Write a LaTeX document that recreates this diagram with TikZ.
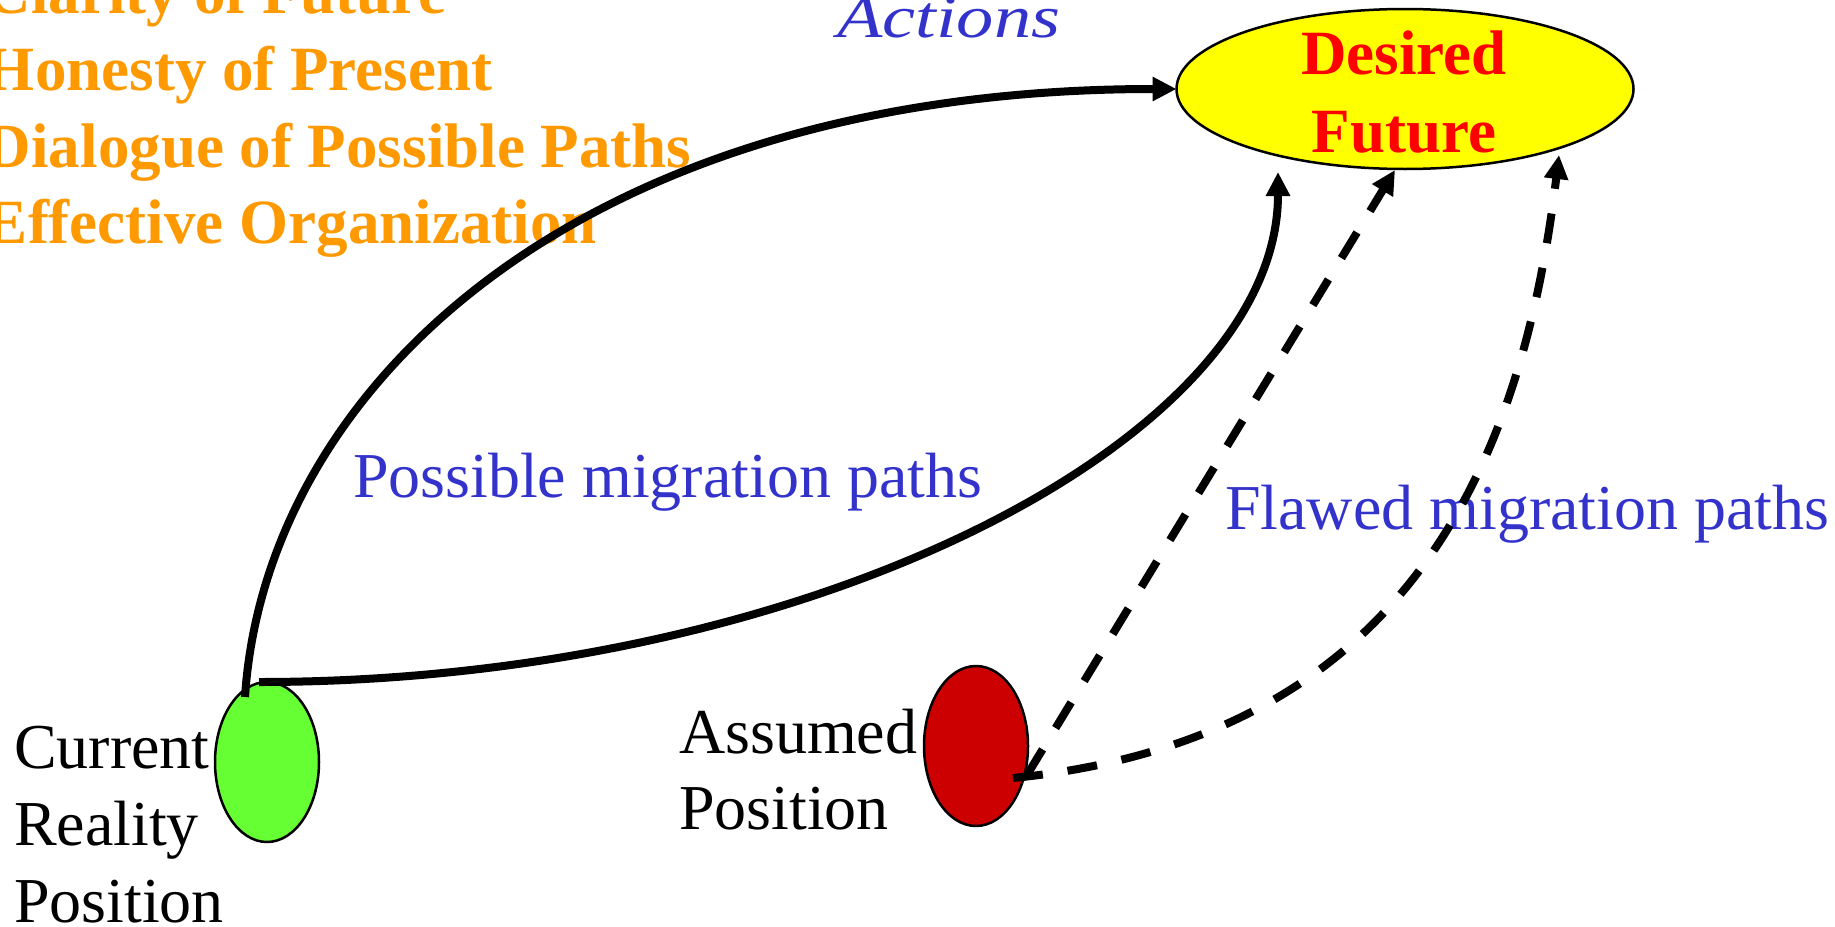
\documentclass[tikz,border=0pt]{standalone}
\usepackage{fontspec}
\setmainfont{Liberation Serif}
\usetikzlibrary{arrows.meta,shapes.geometric,calc}

\definecolor{listorange}{HTML}{FF9900}
\definecolor{labelblue}{HTML}{3333CC}
\definecolor{goalred}{HTML}{FF0000}
\definecolor{goalyellow}{HTML}{FFFF00}
\definecolor{realgreen}{HTML}{66FF33}
\definecolor{assumedred}{HTML}{CC0000}

\begin{document}
\begin{tikzpicture}[x=1pt,y=-1pt,
  txt/.style={inner sep=0pt,outer sep=0pt,anchor=base west,font=\fontsize{64}{77}\selectfont},
  listtxt/.style={txt,text=listorange,font=\fontsize{63}{77}\selectfont\bfseries},
  bluetxt/.style={txt,text=labelblue},
  goaltxt/.style={inner sep=0pt,outer sep=0pt,anchor=base,text=goalred,font=\fontsize{63}{77}\selectfont\bfseries},
  blob/.style={ellipse,draw=black,line width=2.5pt,inner sep=0pt,outer sep=0pt},
  posblob/.style={blob,minimum width=104pt,minimum height=160pt},
  pathline/.style={line width=8pt,-{Triangle[length=24pt,width=23pt]}},
  flawline/.style={pathline,dash pattern=on 30pt off 25pt}
]
\useasboundingbox (0,0) rectangle (1835,926);
\clip (0,0) rectangle (1835,926);

% guiding principles
\node[listtxt] (l1) at (-14,13)  {Clarity of Future};
\node[listtxt] (l2) at (-14,90)  {Honesty of Present};
\node[listtxt] (l3) at (-14,167) {Dialogue of Possible Paths};
\node[listtxt] (l4) at (-14,243) {Effective Organization};

% heading over the paths
\node[bluetxt,font=\fontsize{60}{66}\selectfont\itshape] (act) at (837,37)
  {\scalebox{1.24}[1]{Actions}};

% the goal
\node[blob,fill=goalyellow,minimum width=457pt,minimum height=160pt] (future) at (1405,89) {};
\node[goaltxt] (fut1) at (1404,74)  {Desired};
\node[goaltxt] (fut2) at (1404,152) {Future};

% where we are, and where we think we are
\node[posblob,fill=realgreen] (real) at (267,762) {};
\node[posblob,fill=assumedred] (assumed) at (976,746) {};

\node[txt] (cr1) at (14,768) {Current};
\node[txt] (cr2) at (14,845) {Reality};
\node[txt] (cr3) at (14,922) {Position};

\node[txt] (as1) at (679,753) {Assumed};
\node[txt] (as2) at (679,829) {Position};

% path labels
\node[bluetxt] (poss) at (353,497)  {Possible migration paths};
\node[bluetxt] (flaw) at (1225,529) {Flawed migration paths};

% possible migration paths
\draw[pathline] ($(real.center)+(-22,-65)$) .. controls (265,390) and (576,89) .. (future.west);
\draw[pathline] ($(real.center)+(-8,-80)$) .. controls (809,682) and (1278,440) .. ($(future.center)+(-127,83)$);

% flawed migration paths
\draw[flawline] ($(assumed.center)+(51,29)$) -- ($(future.south)+(-10,1)$);
\draw[flawline] ($(assumed.center)+(37,32)$) .. controls (1413,738) and (1523,455) .. ($(future.center)+(154,66)$);
\end{tikzpicture}
\end{document}
